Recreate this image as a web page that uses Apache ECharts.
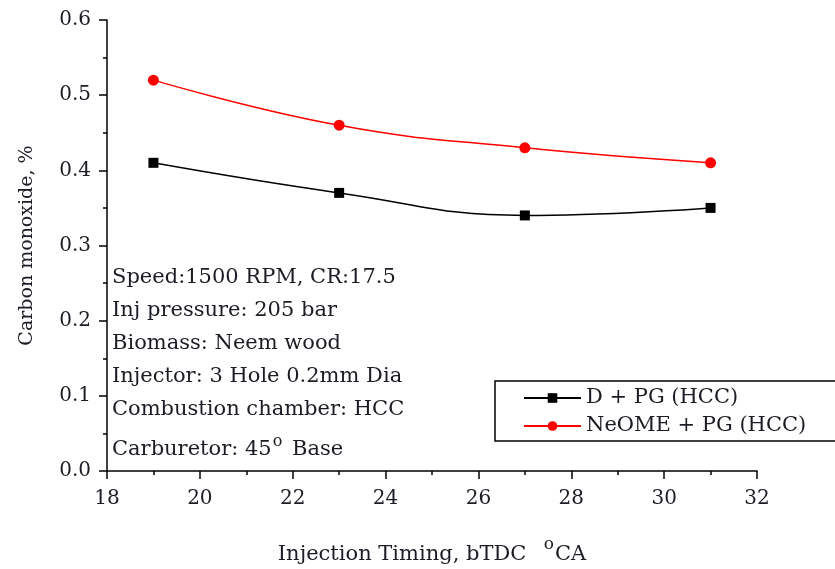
<!DOCTYPE html>
<html>
<head>
<meta charset="utf-8">
<script src="https://cdn.jsdelivr.net/npm/echarts@6/dist/echarts.min.js"></script>
<style>
  html, body { margin: 0; padding: 0; background: #fff; }
  #chart-panel { width: 835px; height: 569px; }
</style>
</head>
<body>
<div id="chart-panel"></div>
<script>
// injection timing, bTDC
var timing = [19, 23, 27, 31]
var dieselPG = [0.41, 0.37, 0.34, 0.35]
var neomePG = [0.52, 0.46, 0.43, 0.41]
var seriesNames = ['D + PG (HCC)', 'NeOME + PG (HCC)']
var notes = [
    'Speed:1500 RPM, CR:17.5',
    'Inj pressure: 205 bar',
    'Biomass: Neem wood',
    'Injector: 3 Hole 0.2mm Dia',
    'Combustion chamber: HCC'
]

var serif = '"DejaVu Serif", "Liberation Serif", serif'
var textColor = '#1c1c24'

function pairs(ys) {
    return timing.map(function (x, i) { return [x, ys[i]] })
}

var noteGraphics = notes.map(function (t, i) {
    return {
        type: 'text',
        x: 112,
        y: 278 + i * 32.8,
        style: { text: t, font: '21px ' + serif, fill: textColor, verticalAlign: 'middle' }
    }
})
noteGraphics.push({
    type: 'text',
    x: 112,
    y: 450,
    style: {
        text: 'Carburetor: 45{sup|o} Base',
        font: '21px ' + serif,
        fill: textColor,
        verticalAlign: 'middle',
        rich: {
            sup: { fontSize: 16, fontFamily: serif, verticalAlign: 'top', padding: [0, 3, 16, 1] }
        }
    }
})

chartOption = {
    backgroundColor: '#fff',
    animation: false,
    grid: {
        left: 107,
        right: 78,
        top: 20,
        bottom: 98,
        containLabel: false,
        outerBoundsMode: 'none'
    },
    xAxis: {
        type: 'value',
        min: 18,
        max: 32,
        interval: 2,
        name: 'Injection Timing, bTDC  {sup|o}CA',
        nameLocation: 'middle',
        nameGap: 65,
        nameTextStyle: {
            fontFamily: serif,
            fontSize: 21,
            color: textColor,
            rich: {
                sup: { fontSize: 17, fontFamily: serif, color: textColor, padding: [0, 1, 20, 4] }
            }
        },
        axisLine: { lineStyle: { color: '#000', width: 1.5 } },
        axisTick: { inside: false, length: 8, lineStyle: { color: '#000', width: 1.5 } },
        minorTick: { show: true, splitNumber: 2, length: 4, lineStyle: { color: '#000', width: 1.5 } },
        axisLabel: { fontFamily: serif, fontSize: 20, color: textColor, margin: 18 },
        splitLine: { show: false }
    },
    yAxis: {
        type: 'value',
        min: 0,
        max: 0.6,
        interval: 0.1,
        name: 'Carbon monoxide, %',
        nameLocation: 'middle',
        nameGap: 70,
        nameTextStyle: { fontFamily: serif, fontSize: 19, color: textColor },
        axisLine: { show: true, lineStyle: { color: '#000', width: 1.5 } },
        axisTick: { show: true, inside: false, length: 8, lineStyle: { color: '#000', width: 1.5 } },
        minorTick: { show: true, splitNumber: 2, length: 4, lineStyle: { color: '#000', width: 1.5 } },
        axisLabel: {
            fontFamily: serif, fontSize: 20, color: textColor, margin: 16,
            formatter: function (v) { return v.toFixed(1) }
        },
        splitLine: { show: false }
    },
    legend: {
        left: 495,
        top: 381,
        orient: 'vertical',
        padding: [6, 40, 4, 28],
        itemGap: 6,
        itemWidth: 57,
        itemHeight: 12,
        borderColor: '#000',
        borderWidth: 1.5,
        borderRadius: 0,
        textStyle: { fontFamily: serif, fontSize: 21, color: textColor, lineHeight: 22 },
        data: seriesNames
    },
    graphic: noteGraphics,
    series: [{
        name: seriesNames[0],
        type: 'line',
        data: pairs(dieselPG),
        smooth: 0.45,
        symbol: 'rect',
        symbolSize: 10,
        lineStyle: { color: '#000', width: 1.5 },
        itemStyle: { color: '#000' }
    }, {
        name: seriesNames[1],
        type: 'line',
        data: pairs(neomePG),
        smooth: 0.45,
        symbol: 'circle',
        symbolSize: 11,
        lineStyle: { color: '#ff0000', width: 1.5 },
        itemStyle: { color: '#ff0000' }
    }]
};

var chartPanel = document.getElementById('chart-panel')
var myChart = echarts.init(chartPanel);
myChart.setOption(chartOption);
</script>
</body>
</html>
